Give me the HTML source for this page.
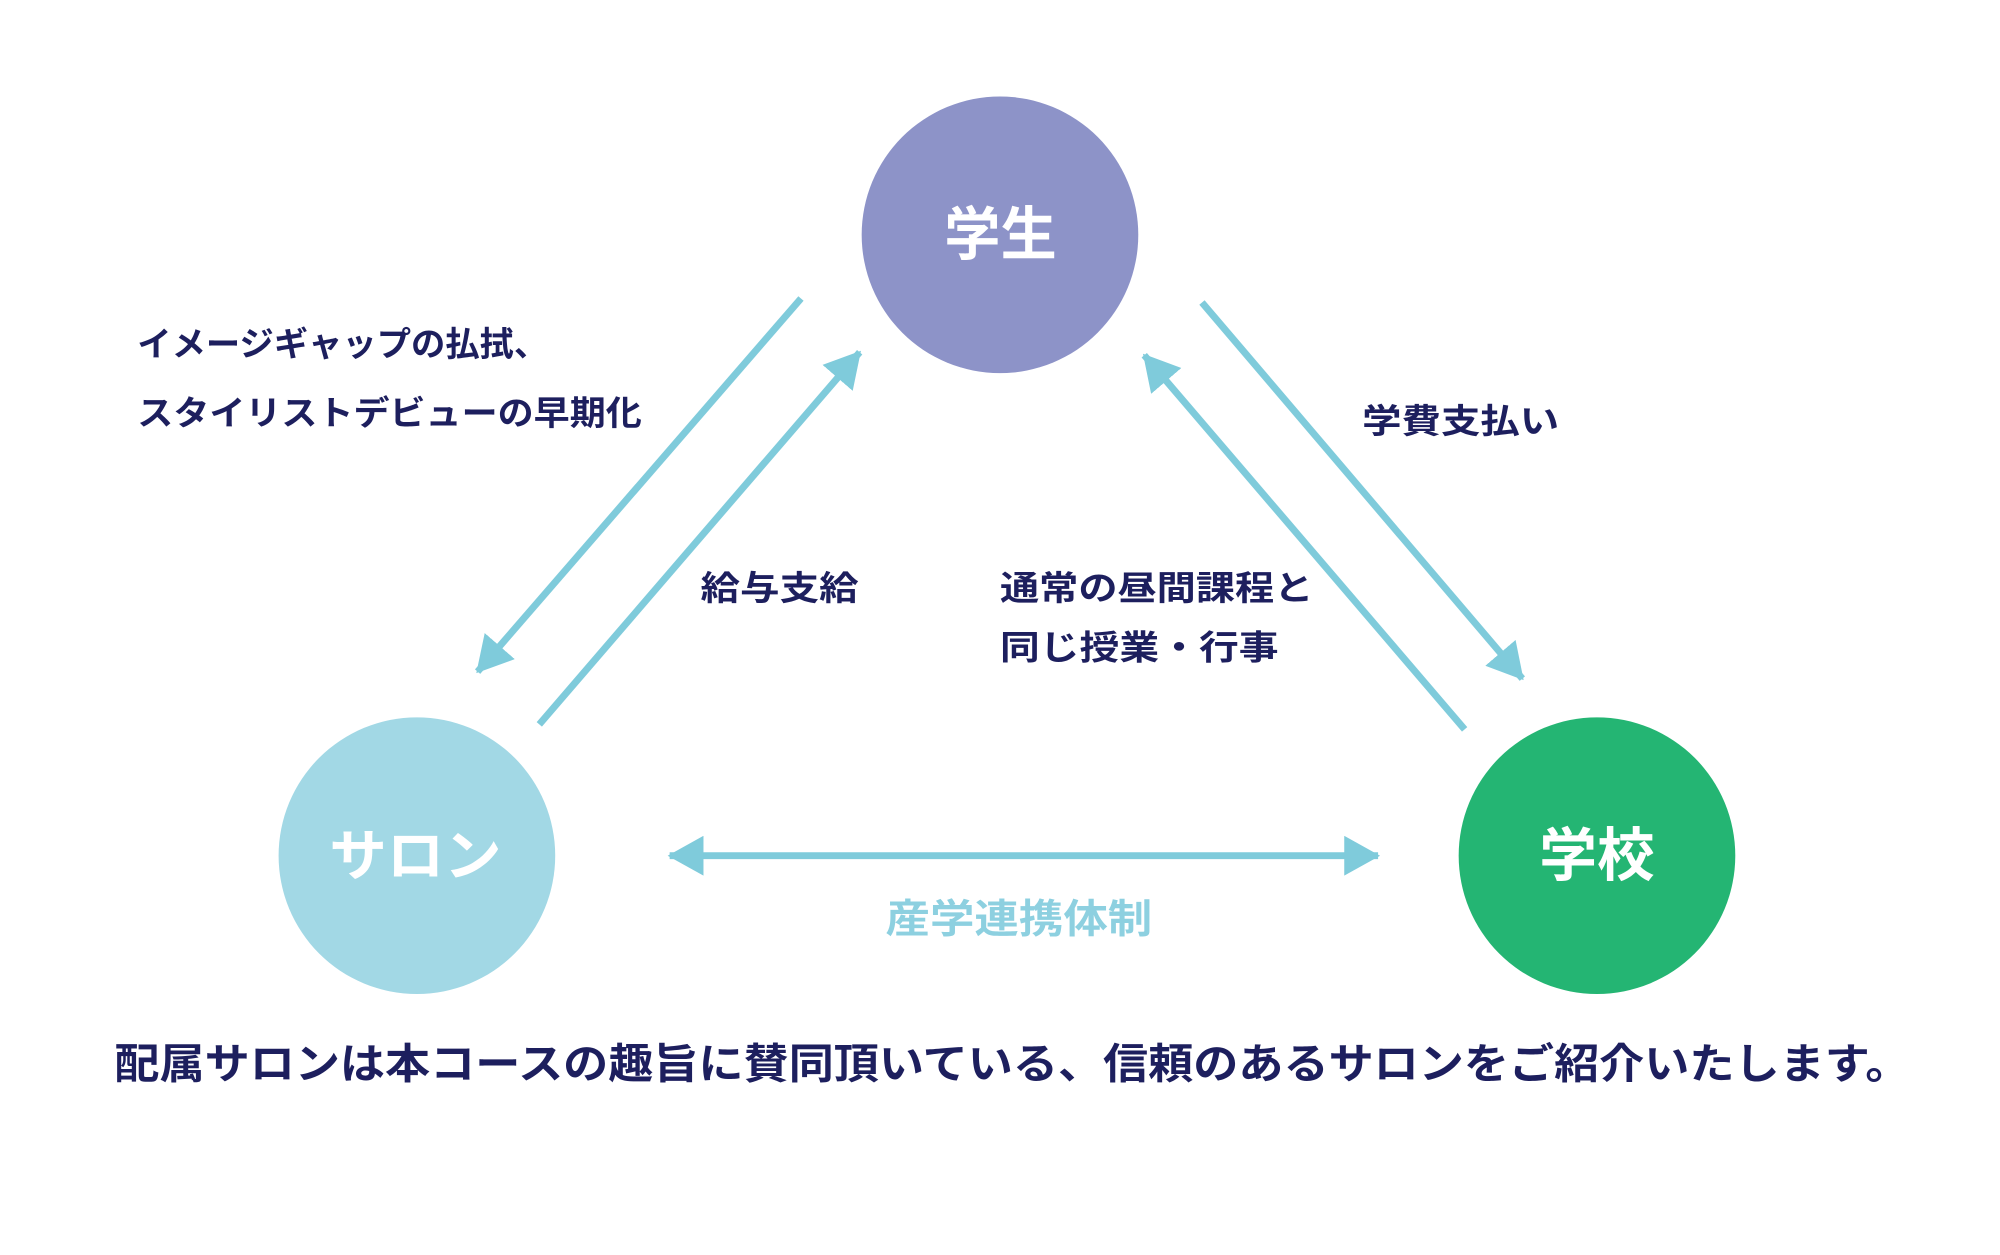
<!DOCTYPE html>
<html><head><meta charset="utf-8"><style>
html,body{margin:0;padding:0;background:#fff;}
svg{display:block;}
text{font-family:"Liberation Sans","Noto Sans CJK JP",sans-serif;font-weight:bold;}
</style></head><body>
<svg width="2000" height="1255" viewBox="0 0 2000 1255" xmlns="http://www.w3.org/2000/svg">
<defs>
<marker id="ah" markerUnits="userSpaceOnUse" markerWidth="42" markerHeight="42" refX="34" refY="20" orient="auto">
<path d="M0,0 L36,20 L0,40 Z" fill="#7fcbdb"/>
</marker>
<marker id="ahs" markerUnits="userSpaceOnUse" markerWidth="42" markerHeight="42" refX="2" refY="20" orient="auto">
<path d="M36,0 L0,20 L36,40 Z" fill="#7fcbdb"/>
</marker>
</defs>
<g transform="scale(0.995)">
<circle cx="1005" cy="236" r="139" fill="#8d93c8"/>
<circle cx="419" cy="860" r="139" fill="#a2d8e5"/>
<circle cx="1605" cy="860" r="139" fill="#24b573"/>
<g stroke="#7fcbdb" stroke-width="7" fill="none">
<line x1="805" y1="300" x2="480" y2="675" marker-end="url(#ah)"/>
<line x1="542" y1="728" x2="864" y2="354" marker-end="url(#ah)"/>
<line x1="1208" y1="304" x2="1530" y2="682" marker-end="url(#ah)"/>
<line x1="1472" y1="733" x2="1150" y2="357" marker-end="url(#ah)"/>
<line x1="673" y1="860" x2="1385" y2="860" marker-start="url(#ahs)" marker-end="url(#ah)"/>
</g>
<g fill="#fff">
<text x="949" y="256" font-size="58" textLength="113" lengthAdjust="spacingAndGlyphs">学生</text>
<text x="331" y="880" font-size="56" textLength="173" lengthAdjust="spacingAndGlyphs">サロン</text>
<text x="1547" y="880" font-size="58" textLength="116" lengthAdjust="spacingAndGlyphs">学校</text>
</g>
<g fill="#1d1f5e" font-size="34">
<text x="138" y="358" textLength="413" lengthAdjust="spacingAndGlyphs">イメージギャップの払拭、</text>
<text x="138" y="427" textLength="507" lengthAdjust="spacingAndGlyphs">スタイリストデビューの早期化</text>
<text x="1369" y="435" textLength="198" lengthAdjust="spacingAndGlyphs">学費支払い</text>
<text x="704" y="603" textLength="159" lengthAdjust="spacingAndGlyphs">給与支給</text>
<text x="1005" y="603" textLength="315" lengthAdjust="spacingAndGlyphs">通常の昼間課程と</text>
<text x="1005" y="663" textLength="280" lengthAdjust="spacingAndGlyphs">同じ授業・行事</text>
<text x="115" y="1084" font-size="42" textLength="1805" lengthAdjust="spacingAndGlyphs">配属サロンは本コースの趣旨に賛同頂いている、信頼のあるサロンをご紹介いたします。</text>
</g>
<text x="890" y="937" font-size="40" fill="#8dd0e0" textLength="268" lengthAdjust="spacingAndGlyphs">産学連携体制</text>
</g>
</svg>
</body></html>
